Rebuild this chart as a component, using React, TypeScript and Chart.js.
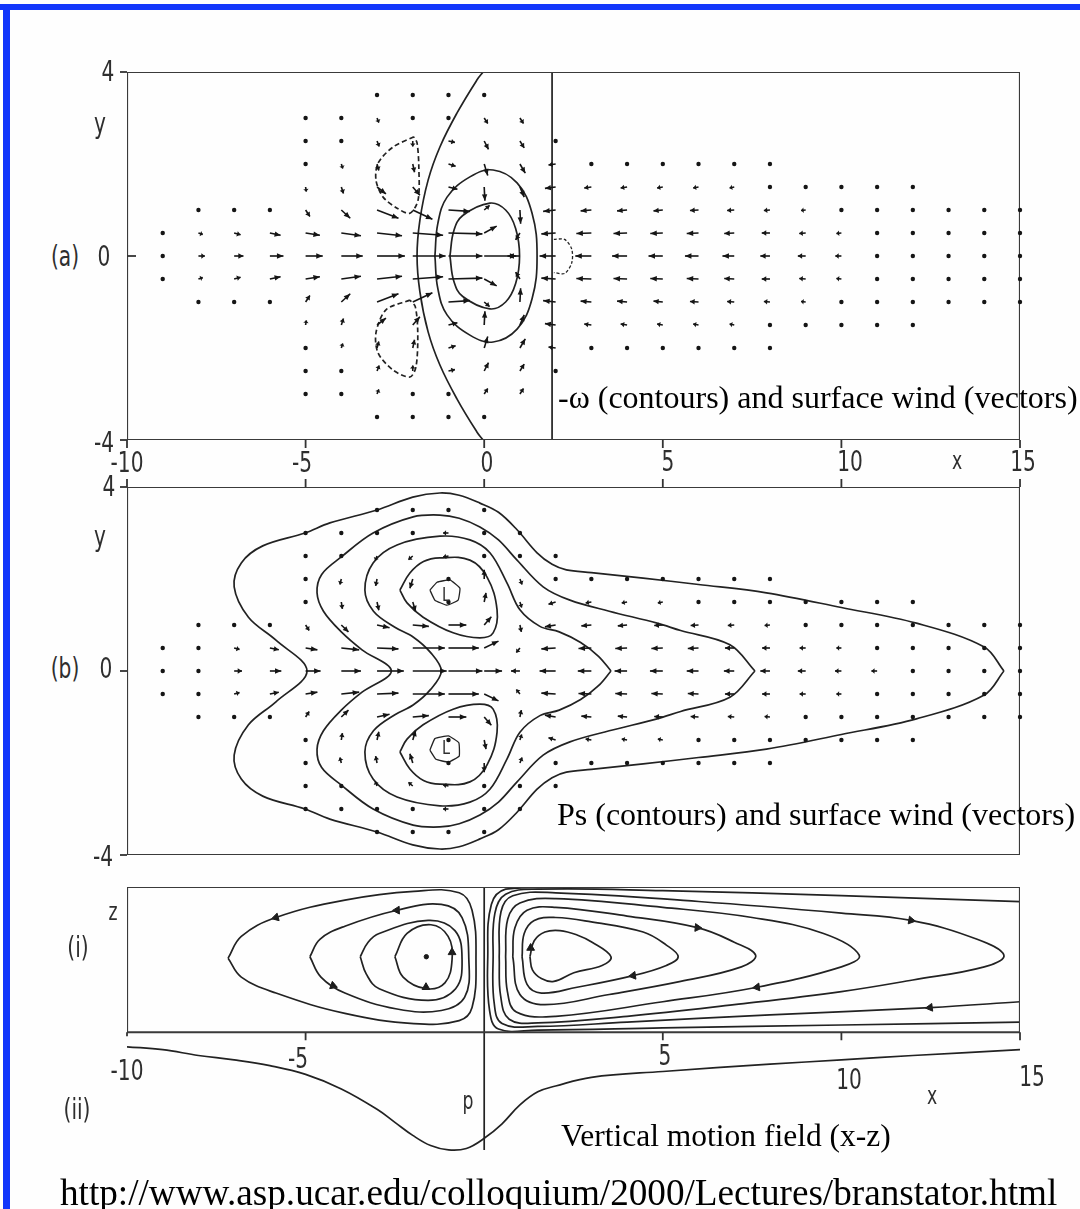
import React, { useEffect, useRef } from "react";
import { Chart, registerables } from "chart.js";
Chart.register(...registerables);

// ---------------- shared axes ----------------
const X_MIN = -10;
const X_MAX = 15;
const xTickValues = [-10, -5, 0, 5, 10, 15];

// wind-vector grid (x columns, y rows, half-extent of each column)
const gridCols = [-9, -8, -7, -6, -5, -4, -3, -2, -1, 0, 1, 2, 3, 4, 5, 6, 7, 8, 9, 10, 11, 12, 13, 14, 15];
const gridSpan = [0.5, 1, 1, 1, 3, 3, 3.5, 3.5, 3.5, 3.5, 3, 2.5, 2, 2, 2, 2, 2, 2, 1.5, 1.5, 1.5, 1.5, 1, 1, 1];
const gridRows = [3.5, 3, 2.5, 2, 1.5, 1, 0.5, 0, -0.5, -1, -1.5, -2, -2.5, -3, -3.5];

// ---------------- panel (a): -omega contours + surface wind ----------------
const aWindU = [
  [0.06, 0.1, 0.06],
  [0.04, 0.12, 0.18, 0.12, 0.04],
  [0.06, 0.18, 0.26, 0.18, 0.06],
  [0.08, 0.3, 0.38, 0.3, 0.08],
  [0, 0, 0, 0.02, 0.12, 0.4, 0.48, 0.4, 0.12, 0.02, 0, 0, 0],
  [0, 0.02, 0.04, 0.06, 0.25, 0.55, 0.6, 0.55, 0.25, 0.06, 0.04, 0.02, 0],
  [0, 0.05, 0.06, 0.05, 0.25, 0.6, 0.7, 0.78, 0.7, 0.6, 0.25, 0.05, 0.06, 0.05, 0],
  [0, 0.02, 0, 0.05, 0.2, 0.55, 0.85, 0.92, 0.85, 0.55, 0.2, 0.05, 0, 0.02, 0],
  [0.02, 0.12, 0.18, 0.2, 0.25, 0.6, 0.95, 0.95, 0.95, 0.6, 0.25, 0.2, 0.18, 0.12, 0.02],
  [0.02, 0.1, 0.12, 0.1, 0.02, 0.15, 0.35, 0.9, 0.35, 0.15, 0.02, 0.1, 0.12, 0.1, 0.02],
  [0.1, 0.12, 0.15, 0.12, 0.02, -0.12, -0.35, -0.12, 0.02, 0.12, 0.15, 0.12, 0.1],
  [-0.05, -0.2, -0.3, -0.35, -0.4, -0.45, -0.4, -0.35, -0.3, -0.2, -0.05],
  [-0.08, -0.2, -0.3, -0.42, -0.45, -0.42, -0.3, -0.2, -0.08],
  [-0.08, -0.18, -0.28, -0.38, -0.42, -0.38, -0.28, -0.18, -0.08],
  [-0.07, -0.16, -0.26, -0.35, -0.4, -0.35, -0.26, -0.16, -0.07],
  [-0.06, -0.15, -0.24, -0.33, -0.38, -0.33, -0.24, -0.15, -0.06],
  [-0.05, -0.13, -0.2, -0.28, -0.33, -0.28, -0.2, -0.13, -0.05],
  [-0.05, -0.11, -0.17, -0.23, -0.27, -0.23, -0.17, -0.11, -0.05],
  [-0.08, -0.13, -0.18, -0.22, -0.18, -0.13, -0.08],
  [-0.07, -0.1, -0.14, -0.17, -0.14, -0.1, -0.07],
  [-0.06, -0.08, -0.1, -0.12, -0.1, -0.08, -0.06],
  [-0.05, -0.07, -0.08, -0.1, -0.08, -0.07, -0.05],
  [-0.05, -0.06, -0.07, -0.06, -0.05],
  [-0.04, -0.05, -0.06, -0.05, -0.04],
  [-0.04, -0.05, -0.05, -0.05, -0.04],
];
const aWindV = [
  [0, 0, 0],
  [-0.04, -0.03, 0, 0.03, 0.04],
  [-0.05, -0.04, 0, 0.04, 0.05],
  [-0.06, -0.05, 0, 0.05, 0.06],
  [-0.02, -0.04, -0.06, -0.1, -0.14, -0.05, 0, 0.05, 0.14, 0.1, 0.06, 0.04, 0.02],
  [-0.03, -0.08, -0.1, -0.14, -0.18, -0.06, 0, 0.06, 0.18, 0.14, 0.1, 0.08, 0.03],
  [0, -0.1, -0.12, -0.14, -0.15, -0.18, -0.06, 0, 0.06, 0.18, 0.15, 0.14, 0.12, 0.1, 0],
  [0, -0.08, -0.12, -0.18, -0.18, -0.2, -0.05, 0, 0.05, 0.2, 0.18, 0.18, 0.12, 0.08, 0],
  [0, -0.02, -0.03, -0.05, -0.05, -0.03, -0.02, 0, 0.02, 0.03, 0.05, 0.05, 0.03, 0.02, 0],
  [0, -0.12, -0.18, -0.25, -0.3, 0.1, 0.15, 0, -0.15, -0.1, 0.3, 0.25, 0.18, 0.12, 0],
  [-0.12, -0.15, -0.2, -0.22, -0.3, -0.15, 0, 0.15, 0.3, 0.22, 0.2, 0.15, 0.12],
  [0, -0.02, -0.03, -0.03, -0.02, 0, 0.02, 0.03, 0.03, 0.02, 0],
  [-0.02, -0.02, -0.02, -0.01, 0, 0.01, 0.02, 0.02, 0.02],
  [-0.02, -0.02, -0.02, -0.01, 0, 0.01, 0.02, 0.02, 0.02],
  [-0.02, -0.02, -0.02, -0.01, 0, 0.01, 0.02, 0.02, 0.02],
  [-0.02, -0.02, -0.01, -0.01, 0, 0.01, 0.01, 0.02, 0.02],
  [-0.01, -0.02, -0.01, -0.01, 0, 0.01, 0.01, 0.02, 0.01],
  [-0.01, -0.01, -0.01, 0, 0, 0, 0.01, 0.01, 0.01],
  [-0.01, -0.01, -0.01, 0, 0.01, 0.01, 0.01],
  [-0.01, -0.01, -0.01, 0, 0.01, 0.01, 0.01],
  [-0.01, -0.01, 0, 0, 0, 0.01, 0.01],
  [-0.01, 0, 0, 0, 0, 0, 0.01],
  [0, 0, 0, 0, 0],
  [0, 0, 0, 0, 0],
  [0, 0, 0, 0, 0],
];
const aHeatingEdge = [[1.9, 4], [1.9, -4]];
const aOmegaBoundary = [[-0.03, 4], [-0.2, 3.83], [-0.76, 3.11], [-1.24, 2.37], [-1.57, 1.65], [-1.8, 0.78], [-1.88, 0], [-1.8, -0.78], [-1.57, -1.65], [-1.24, -2.37], [-0.76, -3.11], [-0.2, -3.83], [-0.03, -4]];
const aOmegaOuter = [[-1.38, 0], [-1.3, 0.7], [-1.04, 1.28], [-0.4, 1.72], [0.25, 1.87], [0.92, 1.59], [1.34, 0.93], [1.48, 0], [1.34, -0.93], [0.92, -1.59], [0.25, -1.87], [-0.4, -1.72], [-1.04, -1.28], [-1.3, -0.7], [-1.38, 0]];
const aOmegaInner = [[-0.96, 0], [-0.85, 0.55], [-0.6, 0.88], [0.16, 1.15], [0.6, 1.0], [0.88, 0.6], [0.99, 0], [0.88, -0.6], [0.6, -1.0], [0.16, -1.15], [-0.6, -0.88], [-0.85, -0.55], [-0.96, 0]];
const aOmegaNegNorth = [[-1.97, 2.59], [-2.55, 2.37], [-2.97, 2.02], [-3.03, 1.65], [-2.83, 1.28], [-2.44, 1.04], [-2.08, 0.93], [-1.85, 1.22], [-1.83, 1.93], [-1.88, 2.46], [-1.97, 2.59]];
const aOmegaNegSouth = [[-2.08, -0.96], [-2.75, -1.17], [-3.03, -1.67], [-2.97, -2.11], [-2.55, -2.48], [-2.08, -2.63], [-1.91, -2.41], [-1.86, -1.67], [-1.93, -1.1], [-2.08, -0.96]];
const aOmegaNegEast = [[1.95, 0.36], [2.25, 0.36], [2.45, 0.15], [2.45, -0.15], [2.25, -0.38], [1.95, -0.36]];

// ---------------- panel (b): surface pressure + surface wind ----------------
const bWindU = [
  [0.05, 0.08, 0.05],
  [0.03, 0.08, 0.1, 0.08, 0.03],
  [0.04, 0.15, 0.22, 0.15, 0.04],
  [0.06, 0.25, 0.32, 0.25, 0.06],
  [0, 0, 0, 0.02, 0.1, 0.33, 0.42, 0.33, 0.1, 0.02, 0, 0, 0],
  [0, -0.02, -0.04, 0.03, 0.2, 0.5, 0.55, 0.5, 0.2, 0.03, -0.04, -0.02, 0],
  [0, -0.03, -0.05, -0.04, 0.05, 0.35, 0.6, 0.75, 0.6, 0.35, 0.05, -0.04, -0.05, -0.03, 0],
  [-0.03, -0.06, -0.12, -0.08, 0.08, 0.45, 0.9, 0.95, 0.9, 0.45, 0.08, -0.08, -0.12, -0.06, -0.03],
  [-0.03, -0.15, -0.15, 0, 0, 0.5, 0.85, 0.95, 0.85, 0.5, 0, 0, -0.15, -0.15, -0.03],
  [-0.03, -0.05, -0.06, 0, 0.05, 0.2, 0.4, 0.5, 0.4, 0.2, 0.05, 0, -0.06, -0.05, -0.03],
  [-0.03, 0.04, 0.06, 0.05, 0.04, -0.1, -0.25, -0.1, 0.04, 0.05, 0.06, 0.04, -0.03],
  [-0.03, -0.1, -0.2, -0.3, -0.4, -0.45, -0.4, -0.3, -0.2, -0.1, -0.03],
  [-0.06, -0.16, -0.28, -0.36, -0.38, -0.36, -0.28, -0.16, -0.06],
  [-0.06, -0.15, -0.26, -0.33, -0.35, -0.33, -0.26, -0.15, -0.06],
  [-0.05, -0.14, -0.24, -0.32, -0.36, -0.32, -0.24, -0.14, -0.05],
  [-0.05, -0.12, -0.22, -0.3, -0.33, -0.3, -0.22, -0.12, -0.05],
  [-0.04, -0.1, -0.18, -0.26, -0.29, -0.26, -0.18, -0.1, -0.04],
  [-0.04, -0.09, -0.15, -0.22, -0.27, -0.22, -0.15, -0.09, -0.04],
  [-0.06, -0.12, -0.17, -0.22, -0.17, -0.12, -0.06],
  [-0.05, -0.1, -0.14, -0.18, -0.14, -0.1, -0.05],
  [-0.05, -0.08, -0.12, -0.16, -0.12, -0.08, -0.05],
  [-0.04, -0.06, -0.08, -0.1, -0.08, -0.06, -0.04],
  [-0.04, -0.05, -0.06, -0.05, -0.04],
  [-0.04, -0.05, -0.05, -0.05, -0.04],
  [-0.04, -0.04, -0.05, -0.04, -0.04],
];
const bWindV = [
  [0, 0, 0],
  [-0.03, -0.02, 0, 0.02, 0.03],
  [-0.04, -0.03, 0, 0.03, 0.04],
  [-0.06, -0.04, 0, 0.04, 0.06],
  [-0.02, -0.03, -0.05, -0.08, -0.12, -0.04, 0, 0.04, 0.12, 0.08, 0.05, 0.03, 0.02],
  [-0.02, -0.06, -0.12, -0.15, -0.15, -0.04, 0, 0.04, 0.15, 0.15, 0.12, 0.06, 0.02],
  [0, -0.04, -0.1, -0.15, -0.18, -0.06, -0.02, 0, 0.02, 0.06, 0.18, 0.15, 0.1, 0.04, 0],
  [0, -0.03, -0.08, -0.2, -0.2, -0.03, 0, 0, 0, 0.03, 0.2, 0.2, 0.08, 0.03, 0],
  [0, 0, -0.02, 0, 0, 0, 0, 0, 0, 0, 0, 0, 0.02, 0, 0],
  [0, 0.03, 0.08, 0.2, 0.2, 0.18, 0.15, 0, -0.15, -0.18, -0.2, -0.2, -0.08, -0.03, 0],
  [0, -0.08, -0.12, -0.12, -0.15, -0.1, 0, 0.1, 0.15, 0.12, 0.12, 0.08, 0],
  [-0.03, -0.05, -0.05, -0.04, -0.02, 0, 0.02, 0.04, 0.05, 0.05, 0.03],
  [-0.02, -0.02, -0.02, -0.01, 0, 0.01, 0.02, 0.02, 0.02],
  [-0.02, -0.02, -0.02, -0.01, 0, 0.01, 0.02, 0.02, 0.02],
  [-0.02, -0.02, -0.01, -0.01, 0, 0.01, 0.01, 0.02, 0.02],
  [-0.02, -0.01, -0.01, -0.01, 0, 0.01, 0.01, 0.01, 0.02],
  [-0.01, -0.01, -0.01, 0, 0, 0, 0.01, 0.01, 0.01],
  [-0.01, -0.01, -0.01, 0, 0, 0, 0.01, 0.01, 0.01],
  [-0.01, -0.01, 0, 0, 0, 0.01, 0.01],
  [-0.01, -0.01, 0, 0, 0, 0.01, 0.01],
  [-0.01, 0, 0, 0, 0, 0, 0.01],
  [0, 0, 0, 0, 0, 0, 0],
  [0, 0, 0, 0, 0],
  [0, 0, 0, 0, 0],
  [0, 0, 0, 0, 0],
];
const bPressure1 = [[14.55, 0], [14.0, 0.52], [12.1, 1.04], [10.0, 1.38], [7.9, 1.7], [6.0, 1.88], [4.45, 2.02], [3.0, 2.14], [2.3, 2.2], [1.9, 2.32], [1.48, 2.57], [0.92, 3.07], [0.4, 3.45], [-0.12, 3.65], [-0.7, 3.82], [-1.24, 3.87], [-2.0, 3.78], [-3.0, 3.5], [-4.32, 3.22], [-5.02, 3.0], [-6.2, 2.72], [-6.8, 2.35], [-7.0, 1.83], [-6.6, 1.17], [-5.83, 0.67], [-4.96, 0], [-5.83, -0.67], [-6.6, -1.17], [-7.0, -1.83], [-6.8, -2.35], [-6.2, -2.72], [-5.02, -3.0], [-4.32, -3.22], [-3.0, -3.5], [-2.0, -3.78], [-1.24, -3.87], [-0.7, -3.82], [-0.12, -3.65], [0.4, -3.45], [0.92, -3.07], [1.48, -2.57], [1.9, -2.32], [2.3, -2.2], [3.0, -2.14], [4.45, -2.02], [6.0, -1.88], [7.9, -1.7], [10.0, -1.38], [12.1, -1.04], [14.0, -0.52], [14.55, 0]];
const bPressure2 = [[7.58, 0], [6.88, 0.57], [5.5, 0.88], [4.84, 1.04], [3.5, 1.3], [2.4, 1.54], [1.65, 1.83], [0.92, 2.41], [0.4, 2.85], [-0.12, 3.13], [-0.7, 3.32], [-1.24, 3.39], [-1.99, 3.35], [-3.11, 3.0], [-4.0, 2.48], [-4.55, 2.1], [-4.68, 1.7], [-4.5, 1.3], [-4.0, 0.85], [-3.42, 0.46], [-2.6, 0], [-3.42, -0.46], [-4.0, -0.85], [-4.5, -1.3], [-4.68, -1.7], [-4.55, -2.1], [-4.0, -2.48], [-3.11, -3.0], [-1.99, -3.35], [-1.24, -3.39], [-0.7, -3.32], [-0.12, -3.13], [0.4, -2.85], [0.92, -2.41], [1.65, -1.83], [2.4, -1.54], [3.5, -1.3], [4.84, -1.04], [5.5, -0.88], [6.88, -0.57], [7.58, 0]];
const bPressure3 = [[3.55, 0], [3.2, 0.32], [2.7, 0.62], [2.1, 0.85], [1.56, 0.97], [1.0, 1.33], [0.64, 1.91], [0.16, 2.57], [-0.4, 2.85], [-1.24, 2.93], [-2.44, 2.74], [-3.11, 2.35], [-3.34, 1.76], [-3.1, 1.3], [-2.5, 0.95], [-1.99, 0.74], [-1.5, 0.4], [-1.2, 0], [-1.5, -0.4], [-1.99, -0.74], [-2.5, -0.95], [-3.1, -1.3], [-3.34, -1.76], [-3.11, -2.35], [-2.44, -2.74], [-1.24, -2.93], [-0.4, -2.85], [0.16, -2.57], [0.64, -1.91], [1.0, -1.33], [1.56, -0.97], [2.1, -0.85], [2.7, -0.62], [3.2, -0.32], [3.55, 0]];
const bLowNorth = [[-2.36, 1.76], [-2.08, 2.13], [-1.7, 2.38], [-1.24, 2.46], [-0.4, 2.41], [0.08, 2.04], [0.36, 1.33], [0.25, 0.83], [-0.12, 0.72], [-0.87, 0.83], [-1.71, 1.17], [-2.16, 1.48], [-2.36, 1.76]];
const bLowSouth = [[-2.36, -1.76], [-2.08, -2.13], [-1.7, -2.38], [-1.24, -2.46], [-0.4, -2.41], [0.08, -2.04], [0.36, -1.33], [0.25, -0.83], [-0.12, -0.72], [-0.87, -0.83], [-1.71, -1.17], [-2.16, -1.48], [-2.36, -1.76]];
const bCoreNorth = [[-1.52, 1.76], [-1.32, 1.93], [-0.96, 1.98], [-0.68, 1.8], [-0.73, 1.54], [-1.04, 1.43], [-1.38, 1.54], [-1.52, 1.76]];
const bCoreSouth = [[-1.52, -1.72], [-1.38, -1.47], [-1.0, -1.41], [-0.71, -1.56], [-0.7, -1.85], [-1.0, -1.98], [-1.35, -1.92], [-1.52, -1.72]];

// ---------------- panel (i): x-z streamfunction, panel (ii): pressure ----------------
const iWestLoop4 = [[-7.17, 0.51], [-6.8, 0.66], [-5.83, 0.79], [-3.9, 0.91], [-1.97, 0.97], [-0.7, 0.96], [-0.34, 0.84], [-0.23, 0.5], [-0.34, 0.17], [-0.7, 0.08], [-1.97, 0.06], [-3.9, 0.13], [-5.83, 0.27], [-6.8, 0.38], [-7.17, 0.51]];
const iWestLoop3 = [[-4.88, 0.52], [-4.6, 0.64], [-3.9, 0.73], [-2.44, 0.84], [-1.2, 0.88], [-0.62, 0.79], [-0.43, 0.5], [-0.55, 0.24], [-1.2, 0.15], [-2.44, 0.16], [-3.9, 0.27], [-4.57, 0.38], [-4.88, 0.52]];
const iWestLoop2 = [[-3.47, 0.52], [-3.25, 0.62], [-2.94, 0.68], [-1.57, 0.77], [-0.82, 0.7], [-0.62, 0.5], [-0.8, 0.3], [-1.57, 0.22], [-2.94, 0.3], [-3.3, 0.4], [-3.47, 0.52]];
const iWestLoop1 = [[-2.5, 0.52], [-2.16, 0.68], [-1.49, 0.74], [-1.01, 0.66], [-0.9, 0.5], [-1.1, 0.34], [-1.63, 0.3], [-2.27, 0.38], [-2.5, 0.52]];
const iEastLoop1 = [[1.28, 0.52], [1.4, 0.63], [1.7, 0.69], [2.12, 0.7], [2.6, 0.67], [3.02, 0.62], [3.55, 0.52], [3.3, 0.46], [2.51, 0.41], [1.95, 0.35], [1.6, 0.37], [1.35, 0.43], [1.28, 0.52]];
const iEastLoop2 = [[1.06, 0.52], [1.12, 0.68], [1.4, 0.77], [2.0, 0.79], [3.0, 0.76], [4.45, 0.69], [5.1, 0.6], [5.43, 0.52], [5.1, 0.46], [4.17, 0.39], [2.6, 0.31], [1.6, 0.27], [1.2, 0.33], [1.06, 0.52]];
const iEastLoop3 = [[0.8, 0.52], [0.86, 0.72], [1.2, 0.84], [2.0, 0.86], [4.0, 0.8], [5.97, 0.72], [7.0, 0.62], [7.6, 0.53], [7.2, 0.45], [5.5, 0.35], [3.5, 0.26], [1.7, 0.19], [1.0, 0.26], [0.8, 0.52]];
const iEastLoop4 = [[0.6, 0.52], [0.66, 0.78], [1.0, 0.89], [2.0, 0.92], [5.0, 0.86], [7.5, 0.79], [9.5, 0.68], [10.5, 0.53], [10.0, 0.45], [7.64, 0.31], [5.0, 0.21], [2.0, 0.11], [0.9, 0.14], [0.65, 0.28], [0.6, 0.52]];
const iEastLoop5 = [[0.42, 0.52], [0.47, 0.83], [0.8, 0.94], [2.0, 0.96], [6.0, 0.9], [10.0, 0.82], [11.95, 0.77], [13.8, 0.64], [14.55, 0.53], [14.0, 0.45], [12.0, 0.36], [10.0, 0.28], [7.0, 0.19], [4.0, 0.11], [1.5, 0.065], [0.7, 0.09], [0.46, 0.25], [0.42, 0.52]];
const iEastOpen6 = [[15, 0.9], [10, 0.94], [5, 0.975], [1.5, 0.985], [0.6, 0.95], [0.3, 0.82], [0.25, 0.52], [0.28, 0.2], [0.5, 0.06], [1.5, 0.04], [4.0, 0.07], [8.0, 0.12], [12.48, 0.17], [15, 0.21]];
const iEastOpen7 = [[6, 1.0], [2, 0.997], [0.6, 0.985], [0.2, 0.88], [0.1, 0.52], [0.15, 0.15], [0.4, 0.022], [1.5, 0.015], [5, 0.03], [10, 0.05], [15, 0.07]];
const iArrowX = [-5.83, -2.44, -4.23, -0.9, -1.63, 1.3, 5.97, 11.95, 4.17, 7.64, 12.48];
const iArrowZ = [0.79, 0.84, 0.32, 0.55, 0.31, 0.58, 0.72, 0.77, 0.39, 0.31, 0.17];
const iArrowDir = [255, 268, 110, 0, 0, 0, 95, 100, 262, 262, 263];
const iCellCentre = [[-1.62, 0.52]];
const iDivider = [[0, 1], [0, -0.81]];
const iiPressureX = [-10, -9, -8, -7, -6, -5, -4, -3, -2.5, -2, -1.5, -1, -0.5, 0, 0.5, 1, 1.5, 2, 3, 5, 8, 10, 12, 15];
const iiPressure = [-0.1, -0.12, -0.16, -0.19, -0.23, -0.29, -0.39, -0.53, -0.62, -0.71, -0.78, -0.81, -0.8, -0.73, -0.63, -0.5, -0.41, -0.37, -0.31, -0.27, -0.22, -0.19, -0.16, -0.12];

// ---------------- helpers ----------------
const INK = "#222222";
const BLUE = "#1236fb";
const PAD = 30;

type Box = { left: number; top: number; width: number; height: number };
type XY = (v: number) => number;

function toPts(arr: number[][]) {
  return arr.map(([x, y]) => ({ x, y }));
}
function curve(arr: number[][], extra: any = {}) {
  return {
    data: toPts(arr),
    showLine: true,
    pointRadius: 0,
    borderColor: INK,
    borderWidth: 1.7,
    tension: 0.4,
    fill: false,
    ...extra,
  };
}
function frame(yTop: number, yBot: number) {
  return curve(
    [[X_MIN, yTop], [X_MAX, yTop], [X_MAX, yBot], [X_MIN, yBot], [X_MIN, yTop]],
    { tension: 0, borderWidth: 2.2, borderColor: "#3a3a3a" }
  );
}

function seg(ctx: CanvasRenderingContext2D, x0: number, y0: number, x1: number, y1: number) {
  ctx.beginPath();
  ctx.moveTo(x0, y0);
  ctx.lineTo(x1, y1);
  ctx.stroke();
}

function drawWind(ctx: CanvasRenderingContext2D, X: XY, Y: XY, U: number[][], V: number[][]) {
  ctx.strokeStyle = "#151515";
  ctx.fillStyle = "#151515";
  ctx.lineWidth = 1.6;
  gridCols.forEach((x, i) => {
    const rows = gridRows.filter((y) => Math.abs(y) <= gridSpan[i] + 1e-9);
    rows.forEach((y, k) => {
      const u = (U[i] && U[i][k]) || 0;
      const v = (V[i] && V[i][k]) || 0;
      const x0 = X(x), y0 = Y(y);
      const x1 = X(x + u), y1 = Y(y + v);
      const dx = x1 - x0, dy = y1 - y0;
      const L = Math.hypot(dx, dy);
      if (L < 4.5) {
        ctx.beginPath();
        ctx.arc(x0, y0, 2.2, 0, Math.PI * 2);
        ctx.fill();
        return;
      }
      seg(ctx, x0, y0, x1, y1);
      const ux = dx / L, uy = dy / L;
      const hl = Math.min(6.5, L * 0.55), hw = 2.7;
      ctx.beginPath();
      ctx.moveTo(x1, y1);
      ctx.lineTo(x1 - ux * hl - uy * hw, y1 - uy * hl + ux * hw);
      ctx.lineTo(x1 - ux * hl + uy * hw, y1 - uy * hl - ux * hw);
      ctx.closePath();
      ctx.fill();
    });
  });
}

function PanelChart(props: {
  box: Box;
  yMin: number;
  yMax: number;
  build: () => any[];
  decor: (ctx: CanvasRenderingContext2D, X: XY, Y: XY) => void;
}) {
  const ref = useRef<HTMLCanvasElement | null>(null);
  const { box, yMin, yMax, build, decor } = props;
  const w = box.width + 2 * PAD;
  const h = box.height + 2 * PAD;
  useEffect(() => {
    if (!ref.current) return;
    const chart = new Chart(ref.current, {
      type: "scatter",
      data: { datasets: build() },
      options: {
        animation: false,
        responsive: false,
        maintainAspectRatio: false,
        events: [],
        layout: { padding: PAD },
        plugins: { legend: { display: false }, tooltip: { enabled: false } },
        scales: {
          x: { type: "linear", min: X_MIN, max: X_MAX, display: false },
          y: { type: "linear", min: yMin, max: yMax, display: false },
        },
      },
      plugins: [
        {
          id: "decor",
          afterDatasetsDraw(c: any) {
            const ctx = c.ctx as CanvasRenderingContext2D;
            const xs = c.scales.x, ys = c.scales.y;
            ctx.save();
            ctx.strokeStyle = "#333";
            ctx.lineWidth = 1.8;
            decor(ctx, (v) => xs.getPixelForValue(v), (v) => ys.getPixelForValue(v));
            ctx.restore();
          },
        },
      ],
    } as any);
    return () => chart.destroy();
  }, []);
  return (
    <canvas
      ref={ref}
      width={w}
      height={h}
      style={{ position: "absolute", left: box.left - PAD, top: box.top - PAD, width: w, height: h }}
    />
  );
}

const SANS = "'DejaVu Sans Condensed','Liberation Sans Narrow','Arial Narrow',sans-serif";
const SERIF = "'Liberation Serif','Times New Roman',serif";

function Lab(p: { t: string; x: number; y: number; s?: number }) {
  return (
    <div
      style={{
        position: "absolute",
        left: p.x,
        top: p.y,
        transform: "translate(-50%,-50%) scaleX(0.8)",
        fontFamily: SANS,
        fontSize: p.s || 28,
        lineHeight: 1,
        color: "#2e2e2e",
        whiteSpace: "nowrap",
      }}
    >
      {p.t}
    </div>
  );
}
function Cap(p: { t: string; x: number; base: number; s: number }) {
  return (
    <div
      style={{
        position: "absolute",
        left: p.x,
        top: p.base - 0.891 * p.s,
        fontFamily: SERIF,
        fontSize: p.s,
        lineHeight: "normal",
        color: "#000",
        whiteSpace: "nowrap",
      }}
    >
      {p.t}
    </div>
  );
}

export default function App() {
  const boxA: Box = { left: 127, top: 72, width: 893, height: 368 };
  const boxB: Box = { left: 127, top: 487, width: 893, height: 368 };
  const boxI: Box = { left: 127, top: 887, width: 893, height: 276 };
  return (
    <div style={{ position: "absolute", left: 0, top: 0, width: 1080, height: 1209, background: "#fefefe", overflow: "hidden" }}>
      <div style={{ position: "absolute", left: 0, top: 4, width: 1080, height: 6, background: BLUE }} />
      <div style={{ position: "absolute", left: 3, top: 4, width: 7, height: 1205, background: BLUE }} />

      <PanelChart
        box={boxA}
        yMin={-4}
        yMax={4}
        build={() => [
          frame(4, -4),
          curve(aHeatingEdge, { tension: 0 }),
          curve(aOmegaBoundary),
          curve(aOmegaOuter),
          curve(aOmegaInner),
          curve(aOmegaNegNorth, { borderDash: [5, 3], tension: 0.3 }),
          curve(aOmegaNegSouth, { borderDash: [5, 3], tension: 0.3 }),
          curve(aOmegaNegEast, { borderDash: [3, 2], tension: 0.3, borderWidth: 1.3 }),
        ]}
        decor={(ctx, X, Y) => {
          xTickValues.forEach((v) => seg(ctx, X(v), Y(-4), X(v), Y(-4) + 8));
          seg(ctx, X(-10), Y(0), X(-10) + 9, Y(0));
          seg(ctx, X(-10) - 7, Y(4), X(-10), Y(4));
          seg(ctx, X(-10) - 7, Y(-4), X(-10), Y(-4));
          drawWind(ctx, X, Y, aWindU, aWindV);
        }}
      />

      <PanelChart
        box={boxB}
        yMin={-4}
        yMax={4}
        build={() => [
          frame(4, -4),
          curve(bPressure1, { tension: 0.35 }),
          curve(bPressure2, { tension: 0.35 }),
          curve(bPressure3, { tension: 0.35 }),
          curve(bLowNorth),
          curve(bLowSouth),
          curve(bCoreNorth, { tension: 0.1, borderWidth: 1.3 }),
          curve(bCoreSouth, { tension: 0.1, borderWidth: 1.3 }),
        ]}
        decor={(ctx, X, Y) => {
          xTickValues.forEach((v) => seg(ctx, X(v), Y(4), X(v), Y(4) - 8));
          seg(ctx, X(-10) - 7, Y(0), X(-10), Y(0));
          seg(ctx, X(-10) - 7, Y(4), X(-10), Y(4));
          seg(ctx, X(-10) - 7, Y(-4), X(-10), Y(-4));
          drawWind(ctx, X, Y, bWindU, bWindV);
        }}
      />

      <PanelChart
        box={boxI}
        yMin={-0.9}
        yMax={1}
        build={() => [
          frame(1, 0),
          curve(iDivider, { tension: 0 }),
          curve(iWestLoop4),
          curve(iWestLoop3),
          curve(iWestLoop2),
          curve(iWestLoop1),
          curve(iEastLoop1),
          curve(iEastLoop2),
          curve(iEastLoop3),
          curve(iEastLoop4),
          curve(iEastLoop5),
          curve(iEastOpen6),
          curve(iEastOpen7),
          curve(iiPressureX.map((x, i) => [x, iiPressure[i]])),
          {
            data: iArrowX.map((x, i) => ({ x, y: iArrowZ[i] })),
            showLine: false,
            pointStyle: "triangle",
            rotation: iArrowDir,
            pointRadius: 4.5,
            backgroundColor: "#1a1a1a",
            borderColor: "#1a1a1a",
            borderWidth: 1,
          },
          {
            data: toPts(iCellCentre),
            showLine: false,
            pointRadius: 2.2,
            backgroundColor: "#1a1a1a",
            borderColor: "#1a1a1a",
          },
        ]}
        decor={(ctx, X, Y) => {
          [-5, 5, 10, 15].forEach((v) => seg(ctx, X(v), Y(0), X(v), Y(0) + 8));
          seg(ctx, X(-10), Y(0), X(-10), Y(0) + 4);
        }}
      />

      {/* panel (a) labels */}
      <Lab t="4" x={108} y={72} />
      <Lab t="y" x={100} y={124} />
      <Lab t="(a)" x={65} y={257} />
      <Lab t="0" x={104} y={257} />
      <Lab t="-4" x={104} y={443} />
      <Lab t="-10" x={127} y={463} />
      <Lab t="-5" x={302} y={463} />
      <Lab t="0" x={487} y={463} />
      <Lab t="5" x={668} y={462} />
      <Lab t="10" x={850} y={462} />
      <Lab t="x" x={957} y={461} s={24} />
      <Lab t="15" x={1023} y={462} />
      <Cap t="-ω (contours) and surface wind (vectors)" x={558} base={408} s={32} />

      {/* panel (b) labels */}
      <Lab t="4" x={109} y={487} />
      <Lab t="y" x={100} y={537} />
      <Lab t="(b)" x={65} y={669} />
      <Lab t="0" x={106} y={669} />
      <Lab t="-4" x={103} y={857} />
      <Lab t="L" x={446} y={594} s={20} />
      <Lab t="L" x={446} y={747} s={20} />
      <Cap t="Ps (contours) and surface wind (vectors)" x={557} base={825} s={32} />

      {/* panel (i)/(ii) labels */}
      <Lab t="z" x={113} y={912} s={24} />
      <Lab t="(i)" x={78} y={948} />
      <Lab t="-10" x={127} y={1071} />
      <Lab t="-5" x={298} y={1059} />
      <Lab t="5" x={665} y={1056} />
      <Lab t="10" x={849} y={1080} />
      <Lab t="15" x={1032} y={1077} />
      <Lab t="x" x={932} y={1096} s={24} />
      <Lab t="(ii)" x={77} y={1110} />
      <Lab t="p" x={468} y={1101} s={24} />
      <Cap t="Vertical motion field (x-z)" x={561} base={1146} s={31.5} />
      <Cap t="http://www.asp.ucar.edu/colloquium/2000/Lectures/branstator.html" x={60} base={1204} s={37.2} />
    </div>
  );
}
